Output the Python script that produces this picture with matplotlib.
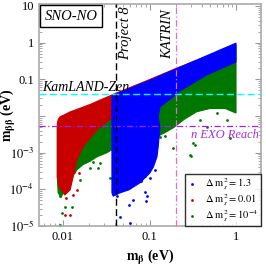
import matplotlib
matplotlib.use("Agg")
import matplotlib.pyplot as plt

plt.rcParams['font.family'] = 'serif'
plt.rcParams['font.serif'] = ['Liberation Serif', 'DejaVu Serif']
plt.rcParams['mathtext.fontset'] = 'stix'

# region outlines (m_beta, m_bb) in eV
green_mb = [0.0086, 0.0092, 0.02, 0.04, 0.1, 1.0, 1.0, 0.75, 0.5, 0.35, 0.25, 0.19, 0.15, 0.132,
            0.12, 0.06, 0.0368, 0.0323, 0.0247, 0.0205, 0.017, 0.0145, 0.0121, 0.0105, 0.0095,
            0.0088, 0.0086]
green_mbb = [0.005, 0.008, 0.017, 0.034, 0.085, 0.85, 0.012, 0.016, 0.016, 0.013, 0.008, 0.0048,
             0.0035, 0.003, 0.0022, 0.0015, 0.0012, 0.001, 0.00077, 0.00058, 0.00047, 0.00034,
             0.00018, 0.0001, 6e-5, 8e-5, 0.0002]

red_mb = [0.0086, 0.0088, 0.0092, 0.0104, 0.0121, 0.0205, 0.0418, 0.1, 0.2, 0.35, 0.35, 0.13,
          0.0368, 0.0247, 0.017, 0.0145, 0.0131, 0.0121, 0.0105, 0.009, 0.0086]
red_mbb = [0.006, 0.008, 0.0094, 0.0108, 0.0129, 0.0205, 0.0426, 0.098, 0.195, 0.33, 0.15, 0.03,
           0.0089, 0.0042, 0.00144, 0.00064, 0.00022, 9.7e-5, 7e-5, 0.00012, 0.00022]

blue_mb = [0.0368, 0.1, 0.3, 1.0, 1.0, 0.7, 0.46, 0.294, 0.208, 0.187, 0.132, 0.126, 0.132,
           0.126, 0.122, 0.111, 0.101, 0.0775, 0.0579, 0.0455, 0.038, 0.0368]
blue_mbb = [0.0355, 0.093, 0.285, 0.97, 0.298, 0.204, 0.132, 0.0705, 0.043, 0.033, 0.0177,
            0.0094, 0.005, 0.00144, 0.00077, 0.00041, 0.00028, 0.00015, 9.7e-5, 8e-5, 6.5e-5, 8e-5]

# scattered points outside the dense regions
green_pts_mb = [0.188, 0.294, 0.321, 0.132, 0.78, 0.458, 0.384, 0.598, 0.15, 0.333, 0.304, 0.845,
                0.00923, 0.00966, 0.01054, 0.01261, 0.00923, 0.01574, 0.0205, 0.0256, 0.0268,
                0.0349, 0.0224]
green_pts_mbb = [0.00133, 0.00087, 0.00182, 0.00275, 0.0078, 0.0051, 0.0078, 0.0121, 0.00282,
                 0.00166, 0.00083, 0.00253, 1.08e-5, 2.24e-5, 3.4e-5, 3.4e-5, 6.4e-5, 1.82e-4,
                 3.8e-4, 3.8e-4, 5.2e-4, 2.0e-4, 5.7e-4]
red_pts_mb = [0.01054, 0.01205, 0.01439, 0.01315, 0.0134, 0.0153, 0.0107]
red_pts_mbb = [2.0e-5, 2.0e-5, 9.7e-5, 7.1e-5, 3.05e-4, 2.8e-4, 5.8e-5]
blue_pts_mb = [0.0456, 0.0585, 0.065, 0.0418, 0.0596, 0.0929, 0.0887, 0.1014, 0.116, 0.0918,
               0.0803, 0.088]
blue_pts_mbb = [1.8e-5, 3.8e-5, 5.2e-5, 6.4e-5, 1.2e-5, 6.4e-5, 8.7e-5, 2.0e-4, 3.4e-4, 4.8e-5,
                1.67e-4, 2.29e-4]

labels = [r'$\Delta\ \mathrm{m}_s^2 = 1.3$', r'$\Delta\ \mathrm{m}_s^2 = 0.01$',
          r'$\Delta\ \mathrm{m}_s^2 = 10^{-4}$']

kamland = 0.04
nexo = 0.0054
project8 = 0.0415
katrin = 0.205

yticks = [10, 1, 0.1, 0.01, 1e-3, 1e-4, 1e-5]
yticklabels = ['10', '1', '0.1', '', r'$10^{-3}$', r'$10^{-4}$', r'$10^{-5}$']
xticks = [0.01, 0.1, 1]
xticklabels = ['0.01', '0.1', '1']

blue = '#0000ff'
red = '#c80000'
green = '#007800'

fig = plt.figure(figsize=(2.66, 2.66), dpi=100)
ax = fig.add_axes([39/266, 40/266, 222/266, 222/266])
ax.set_xscale('log')
ax.set_yscale('log')

ax.fill(green_mb, green_mbb, color=green, lw=0.8, zorder=2)
ax.fill(red_mb, red_mbb, color=red, lw=0.8, zorder=3)
ax.fill(blue_mb, blue_mbb, color=blue, lw=0.8, zorder=4)

ax.scatter(blue_pts_mb, blue_pts_mbb, s=4, color=blue, lw=0, zorder=4, label=labels[0])
ax.scatter(red_pts_mb, red_pts_mbb, s=4, color=red, lw=0, zorder=3, label=labels[1])
ax.scatter(green_pts_mb, green_pts_mbb, s=4, color=green, lw=0, zorder=2, label=labels[2])

ax.axhline(kamland, color='#00ffff', ls=(0, (5, 2.5)), lw=1.0, zorder=5)
ax.axhline(nexo, color='#a020f0', ls=(0, (5, 2, 1, 2)), lw=0.9, zorder=5)
ax.axvline(project8, color='black', ls=(0, (5, 2.5)), lw=1.0, zorder=5)
ax.axvline(katrin, color='#ee66cc', ls=(0, (5, 2, 1, 2)), lw=0.9, zorder=5)

ax.text(0.0058, 0.047, 'KamLAND-Zen', fontsize=10, style='italic', zorder=6)
ax.text(0.30, 0.0043, 'n EXO Reach', fontsize=9, style='italic', color='#a030e0',
        ha='left', va='top', zorder=6)
ax.text(0.044, 10, 'Project 8', fontsize=10.5, style='italic', rotation=90,
        ha='left', va='top', zorder=6)
ax.text(0.195, 8, 'KATRIN', fontsize=10.5, style='italic', rotation=90,
        ha='right', va='top', zorder=6)
ax.text(0.025, 0.975, 'SNO-NO', fontsize=10.5, style='italic', ha='left', va='top', zorder=6,
        transform=ax.transAxes,
        bbox=dict(boxstyle='square,pad=0.3', fc='white', ec='black', lw=1))

ax.set_xlim(0.00528, 1.945)
ax.set_ylim(1e-5, 11.3)
ax.set_xticks(xticks)
ax.set_xticklabels(xticklabels)
ax.set_yticks(yticks)
ax.set_yticklabels(yticklabels)
ax.tick_params(which='both', direction='in', top=True, right=True, color='#999999',
               labelsize=9)
ax.tick_params(which='major', length=4)
ax.tick_params(which='minor', length=2)
for s in ax.spines.values():
    s.set_color('#aaaaaa')
    s.set_linewidth(1.2)

ax.set_xlabel(r'$\mathbf{m_{\beta}}$ (eV)', fontsize=10, fontweight='bold', labelpad=4)
ax.set_ylabel(r'$\mathbf{m_{\beta\beta}}$ (eV)', fontsize=10, fontweight='bold')
ax.yaxis.set_label_coords(-0.095, 0.5)

leg = ax.legend(loc='lower right', fontsize=7.5, frameon=True, fancybox=False, borderaxespad=0,
                handlelength=1.0, handletextpad=0.8, borderpad=0.2, labelspacing=0.0,
                markerscale=1.0)
leg.get_frame().set_edgecolor('black')
leg.get_frame().set_linewidth(1.0)
leg.set_zorder(7)

fig.savefig('out.png', dpi=100)
